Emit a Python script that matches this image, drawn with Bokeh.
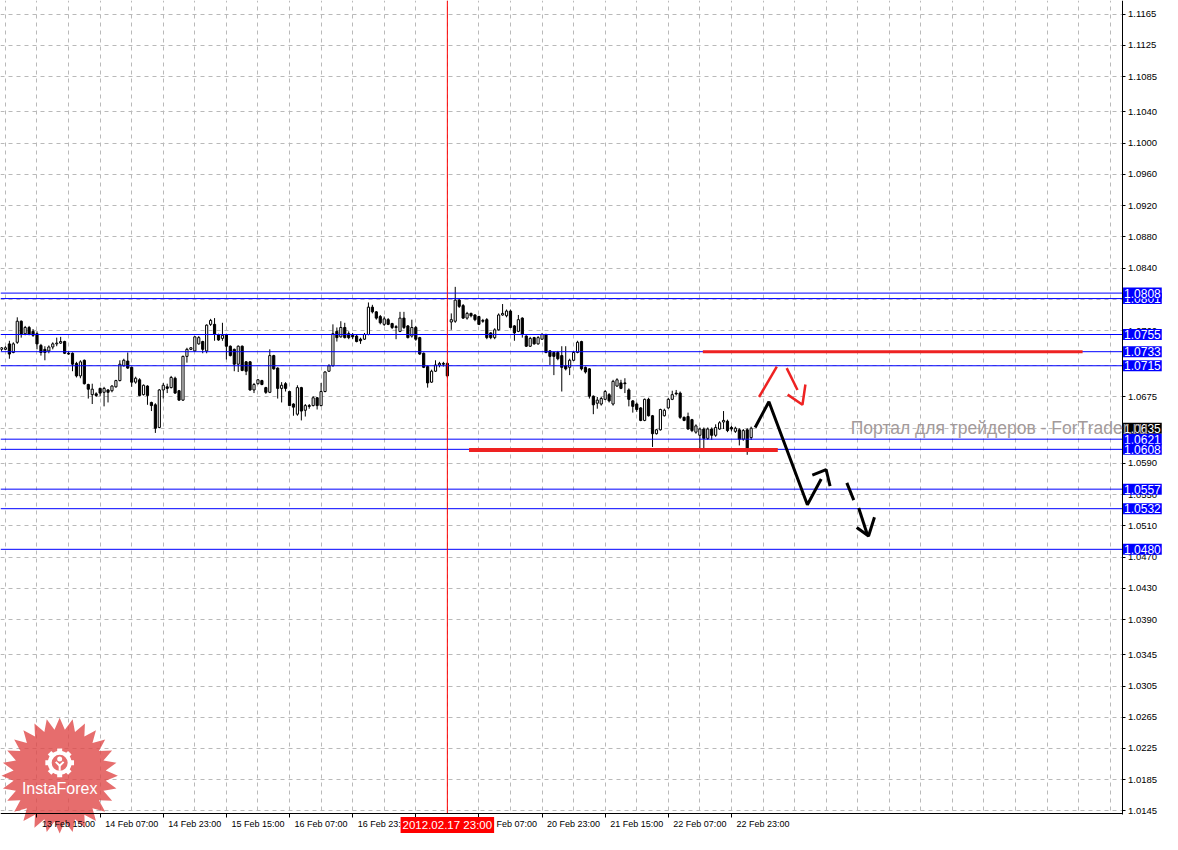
import math
from bokeh.plotting import figure
from bokeh.models import Range1d, FixedTicker, PrintfTickFormatter, Label
from bokeh.core.properties import value
from bokeh.embed import file_html
from bokeh.resources import INLINE

# ---------------- data (H1 bars) ----------------
opens = [1.0736, 1.0736, 1.0743, 1.0732, 1.0745, 1.0772, 1.0756, 1.0764, 1.0759, 1.0756,
         1.0741, 1.0736, 1.0734, 1.0739, 1.0743, 1.0744, 1.0746, 1.0731, 1.0731, 1.0718,
         1.0702, 1.0722, 1.0691, 1.0678, 1.0679, 1.0686, 1.0681, 1.0684, 1.0683, 1.0688,
         1.0696, 1.0715, 1.0721, 1.0713, 1.0694, 1.0697, 1.0678, 1.0689, 1.0668, 1.0665,
         1.0636, 1.0684, 1.0688, 1.0687, 1.0699, 1.0683, 1.0671, 1.0727, 1.0736, 1.0734,
         1.0743, 1.0746, 1.0734, 1.0768, 1.0768, 1.0755, 1.0750, 1.0755, 1.0740, 1.0736,
         1.0717, 1.0740, 1.0720, 1.0720, 1.0684, 1.0692, 1.0696, 1.0687, 1.0681, 1.0728,
         1.0712, 1.0686, 1.0692, 1.0682, 1.0666, 1.0653, 1.0687, 1.0658, 1.0664, 1.0664,
         1.0674, 1.0664, 1.0682, 1.0708, 1.0715, 1.0759, 1.0752, 1.0764, 1.0756, 1.0754,
         1.0753, 1.0749, 1.0749, 1.0755, 1.0790, 1.0784, 1.0778, 1.0768, 1.0774, 1.0769,
         1.0765, 1.0759, 1.0776, 1.0766, 1.0753, 1.0764, 1.0751, 1.0731, 1.0714, 1.0694,
         1.0708, 1.0716, 1.0718, 1.0718, 1.0771, 1.0772, 1.0799, 1.0792, 1.0776, 1.0782,
         1.0780, 1.0778, 1.0773, 1.0774, 1.0757, 1.0751, 1.0761, 1.0780, 1.0779, 1.0785,
         1.0766, 1.0759, 1.0776, 1.0753, 1.0740, 1.0751, 1.0743, 1.0749, 1.0755, 1.0734,
         1.0732, 1.0732, 1.0728, 1.0715, 1.0713, 1.0722, 1.0732, 1.0746, 1.0713, 1.0711,
         1.0676, 1.0667, 1.0666, 1.0672, 1.0678, 1.0666, 1.0689, 1.0693, 1.0693, 1.0684,
         1.0670, 1.0666, 1.0661, 1.0645, 1.0672, 1.0651, 1.0628, 1.0633, 1.0651, 1.0661,
         1.0672, 1.0680, 1.0680, 1.0649, 1.0650, 1.0646, 1.0630, 1.0626, 1.0634, 1.0622,
         1.0634, 1.0626, 1.0634, 1.0643, 1.0644, 1.0636, 1.0631, 1.0633, 1.0621, 1.0633,
         1.0623]
highs = [1.0739, 1.0740, 1.0747, 1.0745, 1.0777, 1.0773, 1.0766, 1.0766, 1.0762, 1.0759,
         1.0743, 1.0740, 1.0741, 1.0745, 1.0751, 1.0752, 1.0747, 1.0733, 1.0732, 1.0720,
         1.0722, 1.0723, 1.0692, 1.0692, 1.0681, 1.0687, 1.0688, 1.0685, 1.0690, 1.0697,
         1.0722, 1.0724, 1.0732, 1.0714, 1.0701, 1.0699, 1.0691, 1.0690, 1.0669, 1.0667,
         1.0685, 1.0693, 1.0692, 1.0702, 1.0701, 1.0684, 1.0728, 1.0738, 1.0739, 1.0753,
         1.0753, 1.0747, 1.0768, 1.0775, 1.0776, 1.0756, 1.0770, 1.0756, 1.0741, 1.0737,
         1.0741, 1.0741, 1.0721, 1.0721, 1.0693, 1.0698, 1.0697, 1.0688, 1.0736, 1.0729,
         1.0713, 1.0694, 1.0694, 1.0683, 1.0667, 1.0690, 1.0688, 1.0666, 1.0666, 1.0676,
         1.0675, 1.0693, 1.0708, 1.0717, 1.0768, 1.0764, 1.0772, 1.0770, 1.0759, 1.0757,
         1.0755, 1.0751, 1.0757, 1.0796, 1.0793, 1.0785, 1.0780, 1.0778, 1.0776, 1.0770,
         1.0767, 1.0784, 1.0784, 1.0767, 1.0774, 1.0766, 1.0752, 1.0732, 1.0715, 1.0710,
         1.0722, 1.0720, 1.0720, 1.0720, 1.0782, 1.0816, 1.0801, 1.0794, 1.0784, 1.0783,
         1.0781, 1.0779, 1.0775, 1.0776, 1.0758, 1.0763, 1.0782, 1.0794, 1.0787, 1.0787,
         1.0767, 1.0780, 1.0777, 1.0754, 1.0752, 1.0752, 1.0753, 1.0757, 1.0756, 1.0735,
         1.0733, 1.0734, 1.0740, 1.0740, 1.0724, 1.0734, 1.0747, 1.0747, 1.0714, 1.0712,
         1.0677, 1.0675, 1.0675, 1.0684, 1.0680, 1.0697, 1.0699, 1.0697, 1.0699, 1.0686,
         1.0671, 1.0668, 1.0662, 1.0673, 1.0674, 1.0652, 1.0634, 1.0660, 1.0660, 1.0674,
         1.0683, 1.0684, 1.0682, 1.0650, 1.0655, 1.0647, 1.0640, 1.0636, 1.0636, 1.0636,
         1.0636, 1.0640, 1.0644, 1.0657, 1.0646, 1.0638, 1.0637, 1.0635, 1.0634, 1.0635,
         1.0637]
lows = [1.0734, 1.0735, 1.0724, 1.0731, 1.0743, 1.0751, 1.0754, 1.0754, 1.0752, 1.0736,
        1.0728, 1.0722, 1.0731, 1.0736, 1.0740, 1.0743, 1.0730, 1.0729, 1.0708, 1.0700,
        1.0699, 1.0691, 1.0673, 1.0666, 1.0675, 1.0676, 1.0663, 1.0668, 1.0681, 1.0687,
        1.0695, 1.0714, 1.0711, 1.0688, 1.0692, 1.0676, 1.0677, 1.0665, 1.0657, 1.0629,
        1.0635, 1.0673, 1.0680, 1.0686, 1.0679, 1.0670, 1.0670, 1.0719, 1.0735, 1.0733,
        1.0742, 1.0731, 1.0731, 1.0766, 1.0747, 1.0747, 1.0747, 1.0723, 1.0727, 1.0708,
        1.0707, 1.0708, 1.0703, 1.0683, 1.0680, 1.0691, 1.0690, 1.0679, 1.0680, 1.0710,
        1.0673, 1.0668, 1.0682, 1.0664, 1.0651, 1.0651, 1.0645, 1.0650, 1.0660, 1.0663,
        1.0659, 1.0663, 1.0681, 1.0707, 1.0714, 1.0746, 1.0751, 1.0750, 1.0749, 1.0749,
        1.0745, 1.0743, 1.0748, 1.0754, 1.0782, 1.0774, 1.0768, 1.0766, 1.0767, 1.0762,
        1.0749, 1.0758, 1.0762, 1.0750, 1.0751, 1.0747, 1.0729, 1.0712, 1.0687, 1.0693,
        1.0707, 1.0713, 1.0714, 1.0700, 1.0761, 1.0770, 1.0789, 1.0775, 1.0774, 1.0777,
        1.0772, 1.0767, 1.0770, 1.0749, 1.0749, 1.0749, 1.0760, 1.0779, 1.0777, 1.0763,
        1.0747, 1.0758, 1.0751, 1.0739, 1.0739, 1.0742, 1.0742, 1.0748, 1.0731, 1.0716,
        1.0703, 1.0722, 1.0682, 1.0709, 1.0703, 1.0721, 1.0731, 1.0709, 1.0705, 1.0673,
        1.0653, 1.0660, 1.0664, 1.0671, 1.0668, 1.0664, 1.0688, 1.0685, 1.0680, 1.0663,
        1.0655, 1.0656, 1.0644, 1.0644, 1.0650, 1.0611, 1.0627, 1.0632, 1.0650, 1.0660,
        1.0671, 1.0677, 1.0647, 1.0644, 1.0633, 1.0630, 1.0628, 1.0609, 1.0609, 1.0620,
        1.0620, 1.0624, 1.0633, 1.0634, 1.0630, 1.0631, 1.0629, 1.0613, 1.0619, 1.0601,
        1.0620]
closes = [1.0738, 1.0738, 1.0730, 1.0743, 1.0772, 1.0755, 1.0764, 1.0755, 1.0754, 1.0743,
          1.0732, 1.0732, 1.0739, 1.0743, 1.0744, 1.0746, 1.0731, 1.0730, 1.0717, 1.0702,
          1.0720, 1.0692, 1.0685, 1.0685, 1.0677, 1.0680, 1.0686, 1.0681, 1.0689, 1.0696,
          1.0717, 1.0722, 1.0712, 1.0694, 1.0699, 1.0677, 1.0690, 1.0677, 1.0664, 1.0635,
          1.0684, 1.0690, 1.0686, 1.0700, 1.0680, 1.0671, 1.0727, 1.0736, 1.0738, 1.0752,
          1.0751, 1.0736, 1.0767, 1.0773, 1.0755, 1.0748, 1.0754, 1.0740, 1.0728, 1.0717,
          1.0740, 1.0709, 1.0708, 1.0684, 1.0691, 1.0697, 1.0691, 1.0681, 1.0728, 1.0711,
          1.0686, 1.0690, 1.0686, 1.0664, 1.0662, 1.0687, 1.0657, 1.0664, 1.0663, 1.0674,
          1.0664, 1.0682, 1.0707, 1.0715, 1.0756, 1.0751, 1.0764, 1.0751, 1.0751, 1.0752,
          1.0746, 1.0747, 1.0755, 1.0790, 1.0784, 1.0776, 1.0770, 1.0775, 1.0768, 1.0764,
          1.0764, 1.0776, 1.0764, 1.0751, 1.0764, 1.0749, 1.0730, 1.0713, 1.0693, 1.0708,
          1.0716, 1.0718, 1.0717, 1.0702, 1.0774, 1.0799, 1.0791, 1.0776, 1.0782, 1.0779,
          1.0774, 1.0768, 1.0772, 1.0751, 1.0751, 1.0761, 1.0780, 1.0782, 1.0785, 1.0764,
          1.0757, 1.0774, 1.0755, 1.0740, 1.0750, 1.0743, 1.0751, 1.0755, 1.0732, 1.0727,
          1.0727, 1.0724, 1.0713, 1.0711, 1.0722, 1.0732, 1.0745, 1.0711, 1.0707, 1.0676,
          1.0665, 1.0671, 1.0673, 1.0682, 1.0670, 1.0695, 1.0697, 1.0686, 1.0692, 1.0672,
          1.0663, 1.0659, 1.0645, 1.0672, 1.0651, 1.0628, 1.0633, 1.0659, 1.0658, 1.0672,
          1.0678, 1.0679, 1.0649, 1.0645, 1.0634, 1.0632, 1.0638, 1.0634, 1.0622, 1.0634,
          1.0626, 1.0636, 1.0642, 1.0645, 1.0632, 1.0634, 1.0635, 1.0621, 1.0632, 1.0608,
          1.0635]
bars = list(range(len(opens)))

time_tick_bars = [9, 25, 41, 57, 73, 89, 105, 121, 137, 153, 169, 185]
time_tick_labels = ["13 Feb 15:00", "14 Feb 07:00", "14 Feb 23:00", "15 Feb 15:00",
                    "16 Feb 07:00", "16 Feb 23:00", "17 Feb 15:00", "20 Feb 07:00",
                    "20 Feb 23:00", "21 Feb 15:00", "22 Feb 07:00", "22 Feb 23:00"]
price_ticks = [1.1165, 1.1125, 1.1085, 1.1040, 1.1000, 1.0960, 1.0920, 1.0880, 1.0840,
               1.0800, 1.0760, 1.0715, 1.0675, 1.0635, 1.0590, 1.0550, 1.0510, 1.0470,
               1.0430, 1.0390, 1.0345, 1.0305, 1.0265, 1.0225, 1.0185, 1.0145]

blue_levels = [1.0801, 1.0808, 1.0755, 1.0733, 1.0715, 1.0557, 1.0532, 1.0480, 1.0621, 1.0608]
current_price = 1.0635
separator_bar = 113
separator_text = "2012.02.17 23:00"

red_upper_level = 1.0733
red_upper_bars = [177.75, 274.0]
red_lower_level = 1.0607
red_lower_bars = [118.5, 196.75]

black_path_bars = [191.0, 194.5, 204.25, 207.75]
black_path_prices = [1.0636, 1.0669, 1.0537, 1.0570]
black_head_bars = [205.5, 209.0, 210.0]
black_head_prices = [1.0575, 1.0582, 1.0561]
black_dash_bars = [[214.25, 216.0], [217.25, 219.5]]
black_dash_prices = [[1.0565, 1.0543], [1.0533, 1.0498]]
black_dash_head_bars = [216.75, 219.75, 221.25]
black_dash_head_prices = [1.0508, 1.0497, 1.0521]

red_up_bars = [192.0, 196.5]
red_up_prices = [1.0675, 1.0714]
red_down_bars = [199.0, 201.75]
red_down_prices = [1.0712, 1.0684]
red_head_bars = [199.25, 203.0, 203.75]
red_head_prices = [1.0678, 1.0665, 1.0691]

watermark_text = "Портал для трейдеров - ForTrader.ru"
watermark_bar = 215.25
watermark_price = 1.0635

# ---------------- figure ----------------
# the plotting frame covers the whole canvas; the axes sit at fixed data positions
x_start, x_end = -0.25, 294.25          # canvas width in bar units
y_start, y_end = 1.01149, 1.11826       # canvas height in price units
axis_bar = 284.0                         # position of the price axis line
axis_price = 1.01412                     # position of the time axis line
FONT = "Liberation Sans"

p = figure(width=1162, height=834, x_range=Range1d(x_start, x_end),
           y_range=Range1d(y_start, y_end), y_axis_location="right",
           output_backend="svg", toolbar_location=None,
           min_border_left=0, min_border_top=0, min_border_right=0, min_border_bottom=0)
p.background_fill_color = "white"
p.border_fill_color = "white"
p.outline_line_color = None

label_shift = 8
p.xaxis.fixed_location = axis_price
p.xaxis.bounds = (x_start, axis_bar)
p.xaxis.ticker = FixedTicker(ticks=[b + label_shift for b in time_tick_bars],
                             minor_ticks=time_tick_bars)
p.xaxis.major_label_overrides = {b + label_shift: t for b, t in zip(time_tick_bars, time_tick_labels)}
p.xaxis.major_tick_line_color = None
p.xaxis.major_tick_out = 4
p.xaxis.major_tick_in = 0
p.xaxis.minor_tick_line_color = "black"
p.xaxis.minor_tick_out = 4
p.xaxis.minor_tick_in = 0
p.xaxis.major_label_standoff = 1
p.xaxis.axis_line_color = "black"
p.xaxis.major_label_text_font_size = "9px"

p.yaxis.fixed_location = axis_bar
p.yaxis.bounds = (axis_price - 0.0001, y_end)
p.yaxis.ticker = FixedTicker(ticks=price_ticks)
p.yaxis.formatter = PrintfTickFormatter(format="%.4f")
p.yaxis.major_tick_out = 3
p.yaxis.major_tick_in = 0
p.yaxis.minor_tick_line_color = None
p.yaxis.major_label_standoff = 3
p.yaxis.axis_line_color = "black"
p.yaxis.major_label_text_font_size = "9.5px"

for ax in (p.xaxis, p.yaxis):
    ax.major_label_text_font = FONT
    ax.major_label_text_color = "black"

p.xgrid.ticker = FixedTicker(ticks=list(range(1, 285, 8)))
for g in (p.xgrid, p.ygrid):
    g.grid_line_color = "#b9b9b9"
    g.grid_line_dash = "4 4"
    g.grid_line_width = 1

# white margins where the axes' labels live (hide grid there)
p.quad(left=[axis_bar, x_start], right=[x_end, x_end], bottom=[y_start, y_start],
       top=[y_end, axis_price], fill_color="white", line_color=None)

# ---------------- logo (decoration) ----------------
K_PER_PX = (x_end - x_start) / 1178.0
P_PER_PX = (y_end - y_start) / 850.0
def kx(px):
    return x_start + px * K_PER_PX
def py(px):
    return y_end - px * P_PER_PX

cx, cy = 60, 790
xs, ys = [], []
n = 28
for i in range(2 * n):
    r = 59 if i % 2 == 0 else 47
    t = math.pi * i / n
    xs.append(kx(cx + r * math.cos(t)))
    ys.append(py(cy + r * math.sin(t)))
p.patch(xs, ys, fill_color="#e04848", fill_alpha=0.8, line_color=None)
gx, gy = 60, 777
teeth_x = [kx(gx + 12 * math.cos(math.pi * i / 4)) for i in range(8)]
teeth_y = [py(gy + 12 * math.sin(math.pi * i / 4)) for i in range(8)]
p.scatter(teeth_x, teeth_y, marker="square", size=5, fill_color="white", line_color=None,
          angle=[-math.pi * i / 4 for i in range(8)])
p.scatter([kx(gx)], [py(gy)], marker="circle", size=20, fill_color=None,
          line_color="white", line_width=4)
p.scatter([kx(gx)], [py(gy - 4)], marker="circle", size=5, fill_color="white", line_color=None)
p.multi_line([[kx(gx - 4), kx(gx), kx(gx + 4)], [kx(gx), kx(gx)]],
             [[py(gy - 1), py(gy + 3), py(gy - 1)], [py(gy + 3), py(gy + 8)]],
             line_color="white", line_width=2)
p.text([kx(cx)], [py(803)], text=["InstaForex"], text_color="white",
       text_font=value(FONT), text_font_size=value("16px"),
       text_align="center", text_baseline="middle")

# ---------------- candles ----------------
p.segment(bars, highs, bars, lows, line_color="black", line_width=1)
up = [i for i in bars if closes[i] >= opens[i]]
dn = [i for i in bars if closes[i] < opens[i]]
p.vbar(x=up, bottom=[opens[i] for i in up], top=[closes[i] for i in up], width=0.55,
       fill_color="white", line_color="black", line_width=1)
p.vbar(x=dn, bottom=[closes[i] for i in dn], top=[opens[i] for i in dn], width=0.55,
       fill_color="black", line_color="black", line_width=1)

# ---------------- levels and drawings ----------------
p.segment([x_start] * len(blue_levels), blue_levels, [axis_bar] * len(blue_levels), blue_levels,
          line_color="#0000ff", line_width=1)
p.segment([separator_bar], [axis_price], [separator_bar], [y_end], line_color="#ff0000", line_width=1)

p.line(red_upper_bars, [red_upper_level] * 2, line_color="#ee2222", line_width=3)
p.line(red_lower_bars, [red_lower_level] * 2, line_color="#ee2222", line_width=4)

p.line(black_path_bars, black_path_prices, line_color="black", line_width=3)
p.line(black_head_bars, black_head_prices, line_color="black", line_width=3)
p.multi_line(black_dash_bars, black_dash_prices, line_color="black", line_width=3)
p.line(black_dash_head_bars, black_dash_head_prices, line_color="black", line_width=3)

p.line(red_up_bars, red_up_prices, line_color="#ee2222", line_width=2.5)
p.line(red_down_bars, red_down_prices, line_color="#ee2222", line_width=2.5)
p.line(red_head_bars, red_head_prices, line_color="#ee2222", line_width=2.5)

# ---------------- price tags on the price axis ----------------
def tag(price, bg):
    p.add_layout(Label(x=axis_bar, y=price, x_offset=1, text="%.4f" % price,
                       text_align="left", text_baseline="middle", text_color="white",
                       text_font=FONT, text_font_size="12px",
                       background_fill_color=bg, padding=1))

tag(current_price, "black")
for lvl in blue_levels:
    tag(lvl, "#0000ff")

p.add_layout(Label(x=separator_bar, y=axis_price, y_offset=-3, text=separator_text,
                   text_align="center", text_baseline="top", text_color="white",
                   text_font=FONT, text_font_size="11.5px",
                   background_fill_color="#ff0000", padding=2))

p.add_layout(Label(x=watermark_bar, y=watermark_price, text=watermark_text,
                   text_align="left", text_baseline="middle", text_color="#a39a9a",
                   text_font=FONT, text_font_size="17.5px"))

open("out.html", "w").write(file_html(p, INLINE))
